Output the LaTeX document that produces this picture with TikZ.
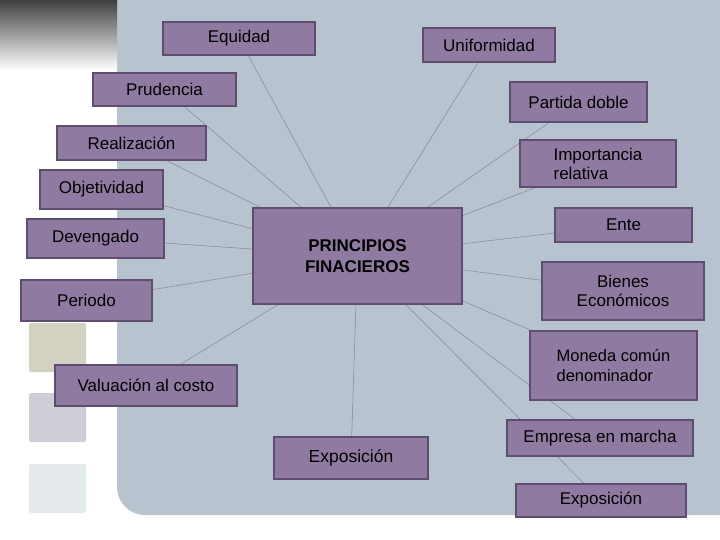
\documentclass[tikz,border=0pt]{standalone}
\usepackage{fontspec}
\setmainfont{Liberation Sans}
\usetikzlibrary{calc}
\pgfdeclarelayer{bg}\pgfdeclarelayer{ln}
\pgfsetlayers{bg,ln,main}
\definecolor{boxf}{HTML}{8F7BA2}
\definecolor{boxd}{HTML}{5E4D6E}
\definecolor{panel}{HTML}{B7C3CE}
\tikzset{x=1pt,y=-1pt,
 pbox/.style={draw=boxd,line width=1.6pt,fill=boxf,inner sep=0pt,align=center,font=\fontsize{17}{19}\selectfont},
 conn/.style={draw=boxd!70,line width=0.5pt}}
\newcommand{\bx}[6]{\node[pbox,minimum width={#4-#2},minimum height={#5-#3}] (#1) at ({(#2+#4)/2},{(#3+#5)/2}) {#6};}
\begin{document}
\begin{tikzpicture}
\useasboundingbox (0,0) rectangle (720,540);
\begin{pgfonlayer}{bg}
\fill[white!95!blue!3] (0,0) rectangle (720,540);
\fill[panel,rounded corners=28pt] (117,-50) rectangle (770,515);
\shade[top color=black!75,bottom color=white!95!blue!3] (0,0) rectangle (117,70);
\fill[olive!20!gray!40, rounded corners=2pt] (29,323) rectangle (86,372);
\fill[blue!10!gray!35, rounded corners=2pt] (29,393) rectangle (86,442);
\fill[cyan!15!gray!20, rounded corners=2pt] (29,464) rectangle (86,513);
\end{pgfonlayer}
\bx{eq}{163}{22}{315}{55}{Equidad}
\bx{un}{423}{28}{555}{62}{Uniformidad}
\bx{pr}{93}{73}{236}{106}{Prudencia}
\bx{pd}{510}{82}{647}{122}{Partida doble}
\bx{re}{57}{126}{206}{160}{Realización}
\node[pbox,minimum width=156,minimum height=47,align=left] (im) at (598,163.5) {Importancia\\relativa};
\bx{ob}{40}{170}{163}{209}{Objetividad}
\bx{de}{27}{219}{164}{258}{Devengado}
\node[pbox,minimum width=209,minimum height=96,font=\bfseries\fontsize{17}{21}\selectfont] (pc) at (357.5,256) {PRINCIPIOS\\FINACIEROS};
\bx{en}{555}{208}{692}{242}{Ente}
\bx{bi}{542}{262}{704}{320}{Bienes\\Económicos}
\bx{pe}{21}{280}{152}{321}{Periodo}
\node[pbox,minimum width=167,minimum height=69,font=\fontsize{16.5}{20}\selectfont,align=left] (mo) at (613.5,365.5) {Moneda común\\denominador};
\bx{va}{55}{365}{237}{406}{Valuación al costo}
\bx{em}{507}{420}{693}{456}{Empresa en marcha}
\node[pbox,minimum width=154,minimum height=42,font=\fontsize{17.5}{19}\selectfont] (ex) at (351,458) {Exposición};
\bx{ex2}{516}{484}{686}{517}{Exposición}
\begin{pgfonlayer}{ln}
\foreach \n in {eq,un,pr,pd,re,im,ob,de,en,bi,pe,mo,va,em,ex,ex2}{\draw[conn] (pc.center) -- (\n.center);}
\end{pgfonlayer}
\end{tikzpicture}
\end{document}
